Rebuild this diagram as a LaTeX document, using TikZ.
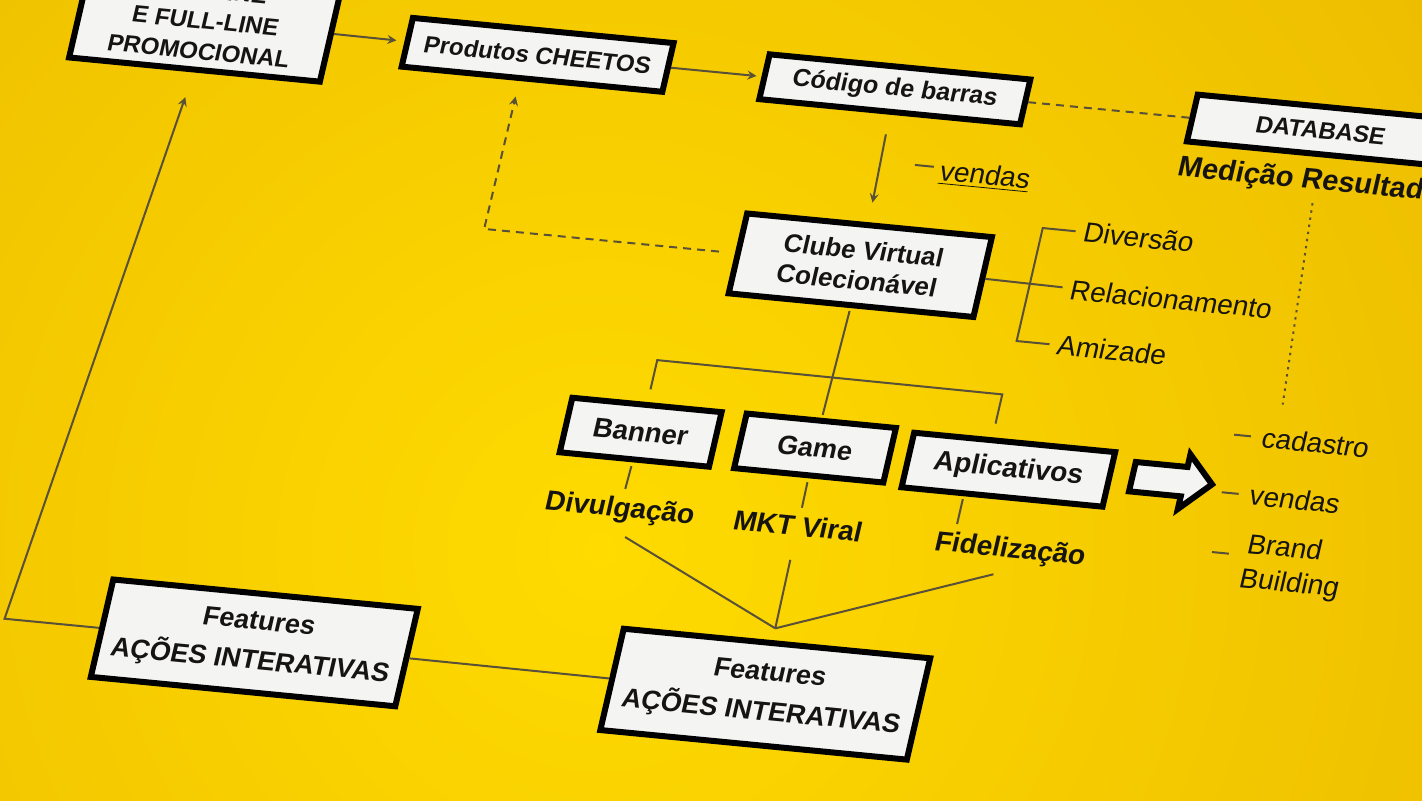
\documentclass[tikz,border=0pt]{standalone}
\usepackage{fontspec}
\setmainfont{Liberation Sans}
\usetikzlibrary{shapes.arrows, arrows, calc, positioning}
\definecolor{bgin}{RGB}{255,219,0}
\definecolor{bgout}{RGB}{226,172,0}
\definecolor{boxwhite}{RGB}{244,244,242}
\definecolor{ink}{RGB}{22,20,16}
\definecolor{wire}{RGB}{88,80,56}
\tikzstyle{box} = [rectangle, draw=black, line width=3pt, fill=boxwhite, text=ink,
align=center, inner sep=2pt, font=\bfseries\fontsize{13}{15.5}\selectfont]
\tikzstyle{note} = [text=ink, inner sep=4pt, font=\fontsize{14}{17}\selectfont]
\tikzstyle{tagnote} = [text=ink, inner sep=4pt, font=\bfseries\fontsize{14}{17}\selectfont]
\tikzstyle{link} = [draw=wire, line width=1pt]
\tikzstyle{dashlink} = [link, dash pattern=on 4pt off 3pt]
\tikzstyle{dotlink} = [link, dash pattern=on 1.2pt off 2.4pt]
\tikzstyle{arrow} = [link, ->, >=stealth]

\begin{document}
\begin{tikzpicture}[x=0.5pt, y=0.5pt]
  \useasboundingbox (0,0) rectangle (1422,-800);
  \clip (0,0) rectangle (1422,-800);
  \shade[inner color=bgin, outer color=bgout] (-1000,1050) rectangle (2200,-2150);

  \begin{scope}[cm={0.995,-0.096,0.225,0.974,(0,0)}, transform shape]
    % top row
    \node (promo) [box, minimum width=126pt, minimum height=50pt,
      font=\bfseries\fontsize{12}{15.5}\selectfont] at (207,-1) {OFF-LINE\\E FULL-LINE\\PROMOCIONAL};
    \node (prod) [box, minimum width=131pt, minimum height=25pt,
      font=\bfseries\fontsize{12}{14}\selectfont] at (541,-3) {Produtos CHEETOS};
    \node (cod) [box, minimum width=131pt, minimum height=23pt,
      font=\bfseries\fontsize{12.5}{14}\selectfont] at (900,-3) {Código de barras};
    \node (db) [box, minimum width=129pt, minimum height=24pt,
      font=\bfseries\fontsize{12}{14}\selectfont] at (1328,-3) {DATABASE};
    \node (med) [tagnote, anchor=west, font=\bfseries\fontsize{14.5}{16}\selectfont]
      at (1188,-55) {Medição Resultados};
    \node (vtop) [note, anchor=west] at (955,-82) {\underline{vendas}};

    % clube and its branches
    \node (clube) [box, minimum width=123pt, minimum height=41pt] at (906,-183) {Clube Virtual\\Colecionável};
    \node (div) [note, anchor=west] at (1110,-128) {Diversão};
    \node (rel) [note, anchor=west] at (1110,-187) {Relacionamento};
    \node (ami) [note, anchor=west] at (1110,-244) {Amizade};

    \node (ban) [box, minimum width=75pt, minimum height=28pt,
      font=\bfseries\fontsize{13.8}{15}\selectfont] at (728,-372) {Banner};
    \node (game) [box, minimum width=75pt, minimum height=28pt,
      font=\bfseries\fontsize{13.5}{15}\selectfont] at (903,-371) {Game};
    \node (apl) [box, minimum width=101pt, minimum height=28pt,
      font=\bfseries\fontsize{14}{15}\selectfont] at (1098,-374) {Aplicativos};
    \node (bigarr) [single arrow, draw=black, line width=3pt, fill=boxwhite, minimum height=40pt,
      minimum width=28pt, single arrow head extend=6pt, inner xsep=0pt, inner ysep=5.5pt] at (1254,-369) {};

    \node (divu) [tagnote] at (725,-452) {Divulgação};
    \node (mkt) [tagnote] at (904,-451) {MKT Viral};
    \node (fid) [tagnote] at (1118,-455) {Fidelização};

    \node (cad) [note, anchor=west] at (1332,-317) {cadastro};
    \node (ven) [note, anchor=west] at (1333,-376) {vendas};
    \node (brand) [note, anchor=west, align=left, font=\fontsize{14}{17.5}\selectfont]
      at (1342,-445) {Brand\\Building};

    \node (feat1) [box, minimum width=153pt, minimum height=50pt,
      font=\bfseries\fontsize{13.5}{20}\selectfont] at (396,-621) {Features\\AÇÕES INTERATIVAS};
    \node (feat2) [box, minimum width=154pt, minimum height=52pt,
      font=\bfseries\fontsize{13.5}{20}\selectfont] at (910,-623) {Features\\AÇÕES INTERATIVAS};

    \coordinate (lcorner) at (145,-621);
    \coordinate (dcorner) at (528,-183);
    \coordinate (dend) at (1353,-282);
    \coordinate (meet) at ($(feat2.north)+(-5,12)$);

    % connectors
    \draw [arrow, shorten >=4pt] (promo) -- (prod);
    \draw [arrow, shorten >=2.5pt] (prod) -- (cod);
    \draw [dashlink] (cod) -- (db);
    \draw [arrow, shorten <=10pt, shorten >=10pt] (cod) -- (clube);
    \draw [link] ($(vtop.west)+(-18,5)$) -- ($(vtop.west)+(1,5)$);
    \draw [dashlink, ->, >=stealth, shorten <=8pt, shorten >=8pt] (clube.west) -- (dcorner)
      -- ($(prod.south)+(-12,0)$);
    \draw [dotlink] (med.south) -- (dend);

    \draw [link] (clube) -- (rel);
    \draw [link] (div.west) -- ++(-33,0) -- ($(ami.west)+(-33,0)$) -- (ami.west);

    \draw [link, shorten <=1.5pt, shorten >=1.5pt] (clube.south) -- (game.north);
    \draw [link] ($(ban.north)+(0,13)$) -- ++(0,30) -- ($(apl.north)+(-23,44)$) -- ($(apl.north)+(-23,14)$);

    \draw [link, shorten <=2pt] (ban) -- (divu);
    \draw [link, shorten <=2pt] (game) -- (mkt);
    \draw [link] ($(apl.south)+(-38,-3)$) -- ($(fid.north)+(-58,0)$);

    \draw [link, shorten <=6pt] (divu.south) -- (meet);
    \draw [link, shorten <=8pt] (mkt.south) -- (meet);
    \draw [link, shorten <=6pt] (fid.south) -- (meet);
    \draw [link] (feat1) -- (feat2);
    \draw [arrow, shorten >=13pt] (feat1.west) -- (lcorner) -- (promo.south);

    \draw [link] ($(cad.west)+(-20,0)$) -- ($(cad.west)+(-3,0)$);
    \draw [link] ($(ven.west)+(-20,0)$) -- ($(ven.west)+(-3,0)$);
    \draw [link] ($(brand.west)+(-25,8)$) -- ($(brand.west)+(-8,8)$);
  \end{scope}
\end{tikzpicture}
\end{document}
